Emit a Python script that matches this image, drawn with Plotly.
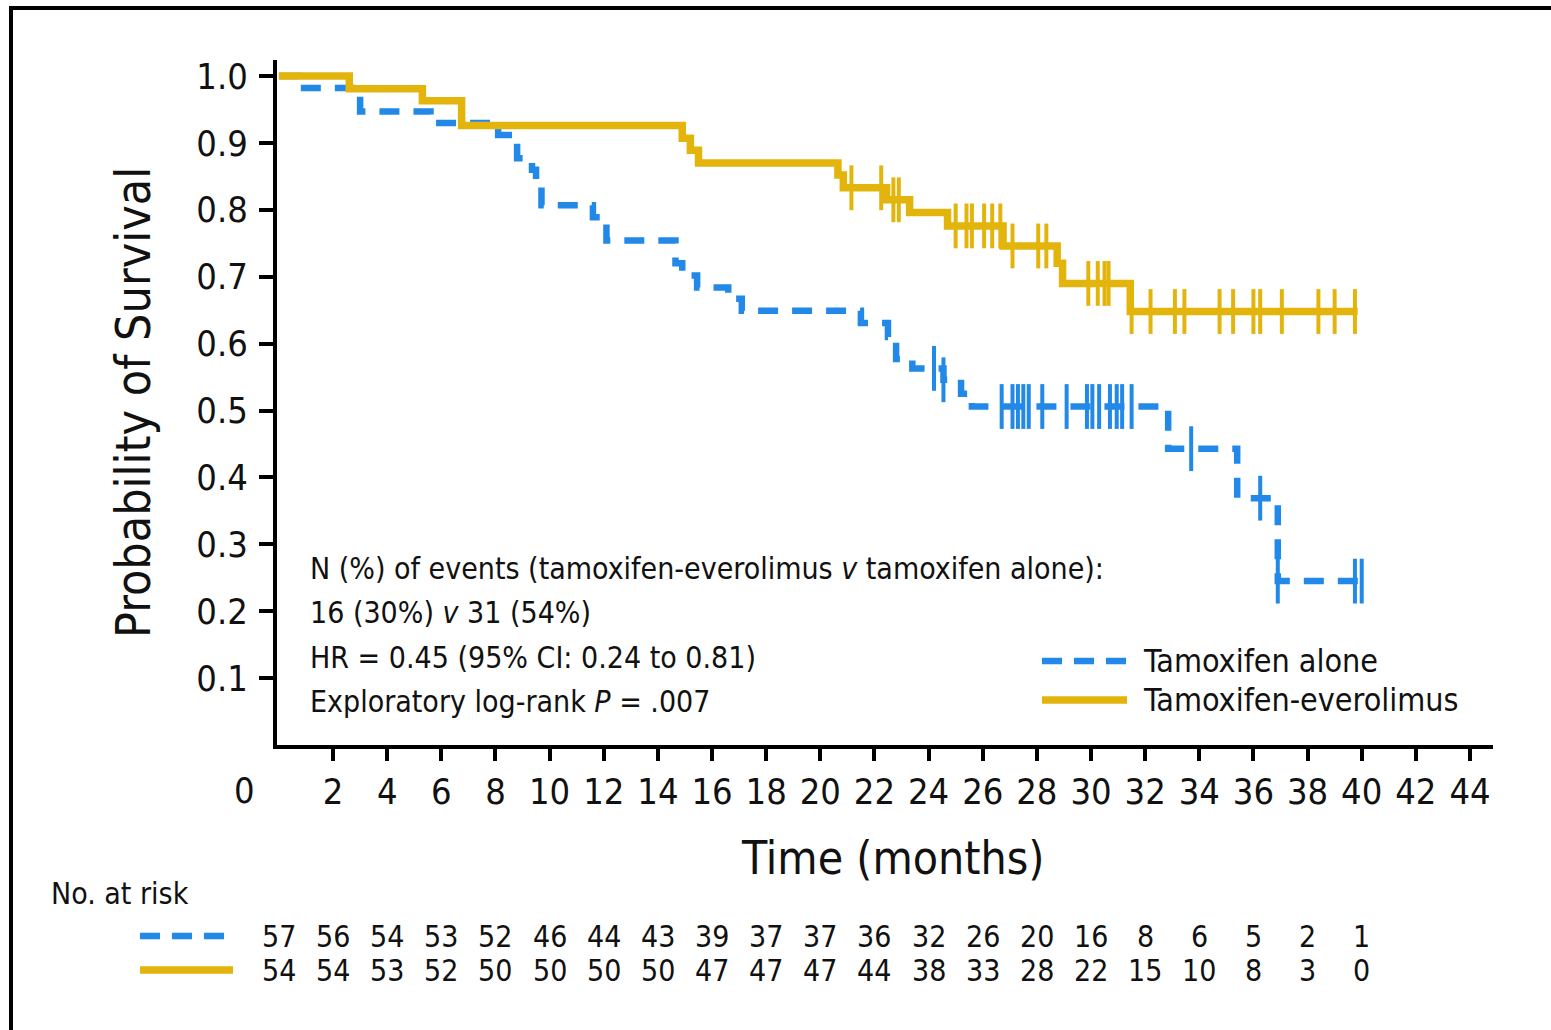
import plotly.graph_objects as go

# ---------------- data ----------------
# Tamoxifen alone (KM step curve)
alone_t = [0, 0.7, 3.0, 5.6, 8.1, 8.8, 9.35, 9.5, 9.7, 11.6, 12.1, 14.65, 14.9, 15.45, 16.6, 17.1,
           21.5, 22.5, 22.8, 23.4, 24.55, 25.2, 25.6, 32.85, 35.4, 36.9, 40.0]
alone_s = [1.0, 0.982, 0.947, 0.930, 0.912, 0.877, 0.860, 0.842, 0.807, 0.789, 0.754, 0.720, 0.702, 0.684,
           0.667, 0.649, 0.631, 0.610, 0.577, 0.563, 0.546, 0.525, 0.506, 0.443, 0.369, 0.245, 0.245]
alone_cens = [24.2, 24.55, 26.7, 27.1, 27.3, 27.5, 27.7, 28.2, 29.1, 29.85, 30.05, 30.3, 30.7,
              30.95, 31.15, 31.5, 33.7, 36.25, 36.9, 39.75, 40.0]

# Tamoxifen-everolimus
evero_t = [0, 2.6, 5.3, 6.75, 14.9, 15.2, 15.5, 20.65, 20.85, 22.45, 23.3, 24.7, 26.75, 28.75, 28.95,
           31.45, 39.85]
evero_s = [1.0, 0.981, 0.963, 0.926, 0.907, 0.889, 0.870, 0.852, 0.833, 0.815, 0.796, 0.776, 0.746,
           0.720, 0.690, 0.648, 0.648]
evero_cens = [21.15, 22.25, 22.7, 22.9, 25.0, 25.4, 25.6, 26.05, 26.35, 26.65, 27.1, 28.05, 28.35,
              29.9, 30.25, 30.5, 30.65, 31.5, 32.2, 33.1, 33.45, 34.75, 35.25, 36.0, 36.25, 37.05,
              38.4, 39.0, 39.75]

risk_times = list(range(0, 42, 2))
risk_alone = [57, 56, 54, 53, 52, 46, 44, 43, 39, 37, 37, 36, 32, 26, 20, 16, 8, 6, 5, 2, 1]
risk_evero = [54, 54, 53, 52, 50, 50, 50, 50, 47, 47, 47, 44, 38, 33, 28, 22, 15, 10, 8, 3, 0]

x_ticks = list(range(2, 46, 2))
y_ticks = [0.1, 0.2, 0.3, 0.4, 0.5, 0.6, 0.7, 0.8, 0.9, 1.0]

series_names = ["Tamoxifen alone", "Tamoxifen-everolimus"]
stats_lines = [
    "N (%) of events (tamoxifen-everolimus <i>v</i> tamoxifen alone):",
    "16 (30%) <i>v</i> 31 (54%)",
    "HR = 0.45 (95% CI: 0.24 to 0.81)",
    "Exploratory log-rank <i>P</i> = .007",
]

# ---------------- styles ----------------
BLUE = "#2389E8"
GOLD = "#E3B50C"
FONT = "Liberation Sans Narrow, DejaVu Sans Condensed, Roboto, sans-serif"
W, H = 1551, 1030
ML, MR, MT, MB = 277, 58, 60, 285
PW, PH = W - ML - MR, H - MT - MB


def px(xp):
    return (xp - ML) / PW


def py(yp):
    return (MT + PH - yp) / PH


def step_at(ts, ss, t):
    v = ss[0]
    for ti, si in zip(ts, ss):
        if ti <= t:
            v = si
    return v


fig = go.Figure()

fig.add_trace(go.Scatter(x=alone_t, y=alone_s, mode="lines", line=dict(shape="hv", color=BLUE, width=6.5,
                         dash="20px,14px"), name=series_names[0], showlegend=False))
fig.add_trace(go.Scatter(x=alone_cens, y=[step_at(alone_t, alone_s, t) for t in alone_cens], mode="markers",
                         marker=dict(symbol="line-ns", size=32, line=dict(color=BLUE, width=4)),
                         showlegend=False))
fig.add_trace(go.Scatter(x=evero_t, y=evero_s, mode="lines", line=dict(shape="hv", color=GOLD, width=7.5),
                         name=series_names[1], showlegend=False))
fig.add_trace(go.Scatter(x=evero_cens, y=[step_at(evero_t, evero_s, t) for t in evero_cens], mode="markers",
                         marker=dict(symbol="line-ns", size=32, line=dict(color=GOLD, width=4)),
                         showlegend=False))

annotations = []
shapes = []

# stats text
for i, line in enumerate(stats_lines):
    annotations.append(dict(xref="paper", yref="paper", x=px(308), y=py(568 + i * 44.5), text=line,
                            showarrow=False, xanchor="left", yanchor="middle",
                            font=dict(family=FONT, size=30, color="#111")))

# legend
for i, (name, col, dash, wdt) in enumerate([(series_names[0], BLUE, "20px,12px", 6.5),
                                            (series_names[1], GOLD, "solid", 7.5)]):
    yy = py(661 + i * 39)
    shapes.append(dict(type="line", xref="paper", yref="paper", x0=px(1042), x1=px(1127), y0=yy, y1=yy,
                       line=dict(color=col, width=wdt, dash=dash)))
    annotations.append(dict(xref="paper", yref="paper", x=px(1141), y=yy, text=name, showarrow=False,
                            xanchor="left", yanchor="middle", font=dict(family=FONT, size=32, color="#111")))

# axis labels
annotations.append(dict(xref="paper", yref="paper", x=px(133), y=py(403), text="Probability of Survival",
                        textangle=-90, showarrow=False, xanchor="center", yanchor="middle",
                        font=dict(family=FONT, size=48, color="#111")))
annotations.append(dict(xref="paper", yref="paper", x=px(892), y=py(858), text="Time (months)",
                        showarrow=False, xanchor="center", yanchor="middle",
                        font=dict(family=FONT, size=46, color="#111")))
annotations.append(dict(xref="paper", yref="paper", x=px(244), y=py(790), text="0",
                        showarrow=False, xanchor="center", yanchor="middle",
                        font=dict(family=FONT, size=36, color="#111")))

# number at risk table
annotations.append(dict(xref="paper", yref="paper", x=px(49), y=py(893), text="No. at risk",
                        showarrow=False, xanchor="left", yanchor="middle",
                        font=dict(family=FONT, size=30, color="#111")))
for row_y, vals, col, dash, wdt in [(936, risk_alone, BLUE, "20px,12px", 6.5), (970, risk_evero, GOLD, "solid", 7.5)]:
    shapes.append(dict(type="line", xref="paper", yref="paper", x0=px(140), x1=px(233), y0=py(row_y),
                       y1=py(row_y), line=dict(color=col, width=wdt, dash=dash)))
    for t, v in zip(risk_times, vals):
        annotations.append(dict(xref="x", yref="paper", x=t, y=py(row_y), text=str(v), showarrow=False,
                                xanchor="center", yanchor="middle",
                                font=dict(family=FONT, size=30, color="#111")))

# outer frame (top/left visible)
shapes.append(dict(type="rect", xref="paper", yref="paper", x0=px(11), x1=px(1600), y0=py(8), y1=py(1080),
                   line=dict(color="black", width=4), fillcolor="rgba(0,0,0,0)", layer="below"))

fig.update_layout(
    width=W, height=H,
    margin=dict(l=ML, r=MR, t=MT, b=MB, pad=0),
    paper_bgcolor="white", plot_bgcolor="white",
    showlegend=False,
    annotations=annotations, shapes=shapes,
    font=dict(family=FONT, color="#111"),
    xaxis=dict(range=[-0.07, 44.85], tickvals=x_ticks, ticks="outside", ticklen=12, tickwidth=4,
               tickcolor="black", showline=True, linewidth=4, linecolor="black", showgrid=False,
               zeroline=False, tickfont=dict(family=FONT, size=36, color="#111"), ticklabelstandoff=0),
    yaxis=dict(range=[0, 1.024], tickvals=y_ticks, ticktext=[f"{v:.1f}" for v in y_ticks], ticks="outside",
               ticklen=14, tickwidth=4, tickcolor="black", showline=True, linewidth=4, linecolor="black",
               showgrid=False, zeroline=False, tickfont=dict(family=FONT, size=36, color="#111"),
               ticklabelstandoff=4),
)

fig.write_html("out.html")
